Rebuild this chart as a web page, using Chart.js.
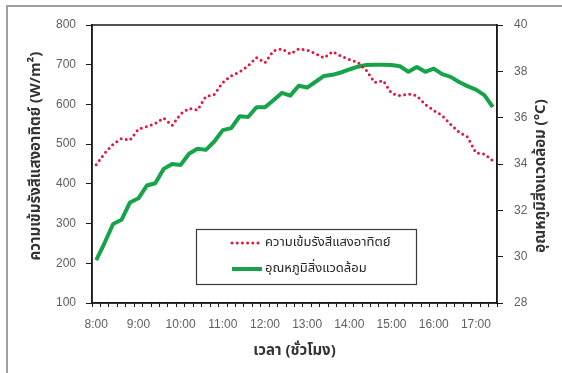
<!DOCTYPE html>
<html><head><meta charset="utf-8">
<script src="https://cdn.jsdelivr.net/npm/chart.js@4.4.0/dist/chart.umd.min.js"></script>
<style>
html,body{margin:0;padding:0;background:#fff;overflow:hidden;width:562px;height:373px;}
#frame{position:absolute;left:6px;top:5px;width:620px;height:420px;border-left:2px solid #a0a0a0;border-top:2px solid #a0a0a0;}
#c{position:absolute;left:0;top:0;}
</style></head><body>
<div id="frame"></div>
<canvas id="c" width="562" height="373"></canvas>
<script>
const times = [
  '8:00','8:12','8:24','8:36','8:48',
  '9:00','9:12','9:24','9:36','9:48',
  '10:00','10:12','10:24','10:36','10:48',
  '11:00','11:12','11:24','11:36','11:48',
  '12:00','12:12','12:24','12:36','12:48',
  '13:00','13:12','13:24','13:36','13:48',
  '14:00','14:12','14:24','14:36','14:48',
  '15:00','15:12','15:24','15:36','15:48',
  '16:00','16:12','16:24','16:36','16:48',
  '17:00','17:12','17:24'
];
const hourLabels = ['8:00','9:00','10:00','11:00','12:00','13:00','14:00','15:00','16:00','17:00'];
const radiation = [
  448, 477, 500, 514, 510, 538, 544, 552, 566, 547,
  576, 590, 586, 620, 625, 655, 672, 682, 697, 718,
  705, 735, 740, 727, 740, 737, 728, 717, 733, 722,
  713, 706, 686, 655, 660, 628, 622, 626, 622, 600,
  585, 572, 550, 530, 518, 478, 475, 458
];
const temperature = [
  29.85, 30.6, 31.41, 31.59, 32.34, 32.52, 33.07, 33.17, 33.79, 34.0,
  33.96, 34.44, 34.66, 34.61, 34.97, 35.46, 35.55, 36.06, 36.03, 36.45,
  36.45, 36.75, 37.07, 36.95, 37.38, 37.3, 37.55, 37.8, 37.85, 37.95,
  38.08, 38.2, 38.27, 38.28, 38.28, 38.27, 38.22, 37.98, 38.19, 37.98,
  38.12, 37.88, 37.76, 37.54, 37.36, 37.21, 36.97, 36.46
];
const radiationAxis = {min: 100, max: 800, step: 100};
const temperatureAxis = {min: 28, max: 40, step: 2};
const seriesNames = ['ความเข้มรังสีแสงอาทิตย์', 'อุณหภูมิสิ่งแวดล้อม'];
const leftTitle = 'ความเข้มรังสีแสงอาทิตย์ (W/m²)';
const rightTitle = 'อุณหภูมิสิ่งแวดล้อม (°C)';
const xTitle = 'เวลา (ชั่วโมง)';

const THAI = "'Noto Sans Thai','Noto Sans','Loma','Garuda','Tlwg Typo','DejaVu Sans',sans-serif";
const TICKFONT = {family: "'Liberation Sans', Arial, sans-serif", size: 12};
const tickColor = '#606060';
const axisColor = '#1a1a1a';

const framePlugin = {
  id: 'frameAndLegend',
  afterDatasetsDraw(chart) {
    const {ctx, chartArea: a} = chart;
    ctx.save();
    ctx.strokeStyle = axisColor; ctx.lineWidth = 1.5;
    ctx.strokeRect(a.left, a.top, a.right - a.left, a.bottom - a.top);
    ctx.restore();
  },
  afterDraw(chart) {
    const ctx = chart.ctx;
    const x0 = 196, y0 = 229, w = 220, h = 55;
    ctx.save();
    ctx.fillStyle = '#fff'; ctx.fillRect(x0, y0, w, h);
    ctx.strokeStyle = '#3a3a3a'; ctx.lineWidth = 1.2;
    ctx.strokeRect(x0 + 0.5, y0 + 0.5, w, h);
    chart.data.datasets.forEach((ds, i) => {
      const y = y0 + 14 + i * 26;
      ctx.beginPath();
      ctx.strokeStyle = ds.borderColor; ctx.lineWidth = ds.borderWidth;
      ctx.setLineDash(ds.borderDash || []);
      ctx.lineCap = ds.borderCapStyle || 'butt';
      ctx.moveTo(232, y); ctx.lineTo(262, y); ctx.stroke();
      ctx.setLineDash([]);
      ctx.fillStyle = '#262626';
      ctx.font = '13px ' + THAI;
      ctx.textBaseline = 'middle'; ctx.textAlign = 'left';
      ctx.fillText(ds.label, 265, y);
    });
    // vertical axis titles
    ctx.fillStyle = '#333';
    ctx.font = 'bold 15px ' + THAI;
    ctx.textAlign = 'center'; ctx.textBaseline = 'middle';
    ctx.save(); ctx.translate(37, 156); ctx.rotate(-Math.PI / 2); ctx.fillText(leftTitle, 0, 0); ctx.restore();
    ctx.save(); ctx.translate(542, 176); ctx.rotate(-Math.PI / 2); ctx.fillText(rightTitle, 0, 0); ctx.restore();
    ctx.restore();
  }
};

new Chart(document.getElementById('c'), {
  type: 'line',
  data: {
    labels: times,
    datasets: [
      {
        label: seriesNames[0], data: radiation, yAxisID: 'y',
        borderColor: '#e3173e', borderWidth: 3, borderDash: [0, 5.2], borderCapStyle: 'round',
        pointRadius: 0, tension: 0, fill: false
      },
      {
        label: seriesNames[1], data: temperature, yAxisID: 'y1',
        borderColor: '#16a34a', borderWidth: 4, borderCapStyle: 'butt', borderJoinStyle: 'round',
        pointRadius: 0, tension: 0, fill: false
      }
    ]
  },
  options: {
    responsive: false, animation: false,
    layout: {padding: {top: 25, left: 0, right: 0, bottom: 0}},
    plugins: {legend: {display: false}, tooltip: {enabled: false}},
    scales: {
      x: {
        type: 'category', offset: true,
        grid: {display: true, drawOnChartArea: false, drawTicks: true, tickLength: 4, offset: true, color: axisColor, lineWidth: 1},
        border: {display: true, color: axisColor, width: 1.5},
        ticks: {
          autoSkip: false, maxRotation: 0, minRotation: 0, padding: 10,
          color: tickColor, font: TICKFONT,
          callback: function(v, i) { const l = this.getLabelForValue(v); return hourLabels.includes(l) ? l : ''; }
        },
        title: {display: true, text: xTitle, color: '#333', font: {family: THAI, size: 15, weight: 'bold'}, padding: {top: 0, bottom: 12}},
        afterFit(s) { s.height = 70; }
      },
      y: {
        position: 'left', min: radiationAxis.min, max: radiationAxis.max,
        grid: {display: true, drawOnChartArea: false, drawTicks: true, tickLength: 6, color: axisColor},
        border: {display: true, color: axisColor, width: 1.5},
        ticks: {stepSize: radiationAxis.step, color: tickColor, font: TICKFONT, padding: 10},
        afterFit(s) { s.width = 92; }
      },
      y1: {
        position: 'right', min: temperatureAxis.min, max: temperatureAxis.max,
        grid: {display: true, drawOnChartArea: false, drawTicks: true, tickLength: 6, color: axisColor},
        border: {display: true, color: axisColor, width: 1.5},
        ticks: {stepSize: temperatureAxis.step, color: tickColor, font: TICKFONT, padding: 11},
        afterFit(s) { s.width = 65; }
      }
    }
  },
  plugins: [framePlugin]
});
</script>
</body></html>
